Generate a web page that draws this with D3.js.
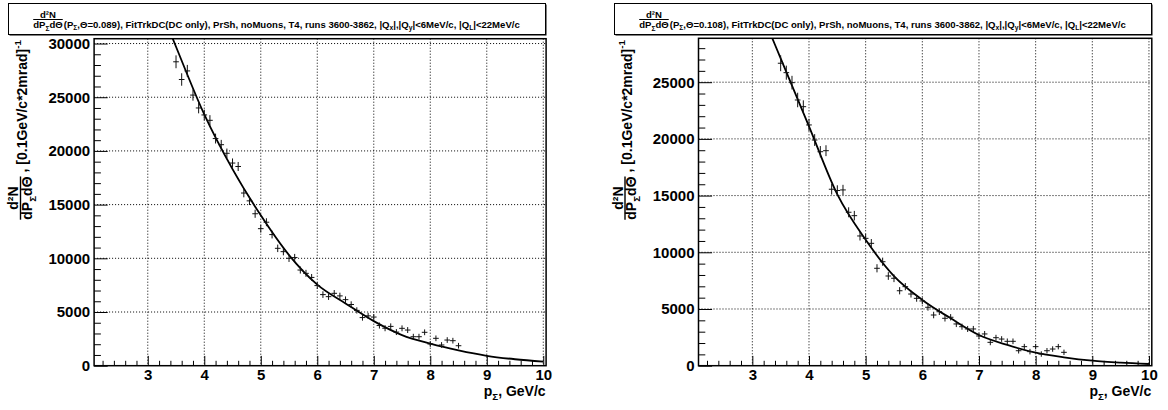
<!DOCTYPE html>
<html>
<head>
<meta charset="utf-8">
<script src="https://cdn.jsdelivr.net/npm/d3@7"></script>
<style>
  html, body { margin: 0; padding: 0; background: #fff; }
  svg { display: block; }
  text { font-family: "Liberation Sans", Arial, Helvetica, sans-serif; font-weight: bold; fill: #000; }
</style>
</head>
<body>
<svg id="canvas" width="1168" height="410"></svg>
<script>
// ---- data -------------------------------------------------------------
// bin centres (GeV/c), bin width 0.1
const binCenters = [3.5,3.6,3.7,3.8,3.9,4.0,4.1,4.2,4.3,4.4,4.5,4.6,4.7,4.8,4.9,5.0,5.1,5.2,5.3,5.4,
  5.5,5.6,5.7,5.8,5.9,6.0,6.1,6.2,6.3,6.4,6.5,6.6,6.7,6.8,6.9,7.0,7.1,7.2,7.3,7.4,
  7.5,7.6,7.7,7.8,7.9,8.0,8.1,8.2,8.3,8.4,8.5];
const binHalfWidth = 0.05;

// Theta = 0.089
const leftCounts = [28300,26650,27450,25200,24000,23350,22850,21150,20580,19780,
  18870,18550,16080,15350,14150,12760,13360,12210,10930,10620,
  10000,10070,8910,8600,8220,7460,6620,6430,6740,6500,
  6150,5700,5150,4480,4640,4530,3740,3490,3660,3130,
  3480,3320,2700,2700,3110,2020,2550,1930,2390,2330,1860];
const leftErrors = [600,580,560,520,500,490,480,460,450,440,
  430,420,400,390,380,370,370,360,350,345,
  340,340,330,325,320,315,310,305,305,300,
  300,295,290,285,285,285,280,280,280,275,
  275,275,270,270,270,265,265,265,265,265,265];

// Theta = 0.108
const rightCounts = [26670,25840,24960,23430,22840,21230,19900,18870,18960,15560,
  15450,15500,13530,13230,11440,11230,10790,8590,9170,7910,
  7710,6610,6970,6320,5940,5710,5150,4470,4760,4180,
  4270,3680,3440,3240,3240,2620,2800,2060,2470,2350,
  2150,2150,1320,1680,1240,1680,1030,1320,1470,1680,1180];
const rightErrors = [700,620,600,640,560,540,520,500,480,470,
  460,450,440,420,400,390,380,360,360,340,
  340,320,320,310,300,300,295,290,290,285,
  280,275,270,265,265,260,260,255,255,250,
  250,250,245,245,245,240,240,240,240,240,240];

// fitted curves, sampled
const fitX = [3.3,3.5,4.0,4.5,5.0,5.5,6.0,6.5,7.0,7.5,8.0,8.5,9.0,9.5,10.0];
const leftFit  = [32300,29700,23400,18300,14000,10300,7550,5800,4150,2850,2050,1420,920,600,380];
const rightFit = [29500,27100,21100,15100,11100,7900,5800,4180,2710,1830,1150,740,440,265,150];

// axes
const xDomain = [2.05, 10.05];
const xTicks = [3,4,5,6,7,8,9,10];
const leftYTicks = [0,5000,10000,15000,20000,25000,30000];
const rightYTicks = [0,5000,10000,15000,20000,25000];
const leftYMax = 30450;
const rightYMax = 28870;

const titleCommon = [[', FitTrkDC(DC only), PrSh, noMuons, T4, runs 3600-3862, |Q',''],['x','sub'],
  ['|,|Q',''],['y','sub'],['|<6MeV/c, |Q',''],['L','sub'],['|<22MeV/c','']];
const leftTitle  = [['(P',''],['\u03A3','sub'],[',\u0398=0.089)','']].concat(titleCommon);
const rightTitle = [['(P',''],['\u03A3','sub'],[',\u0398=0.108)','']].concat(titleCommon);

// ---- layout -----------------------------------------------------------
const panels = [
  { dx: 0,     frame: {x0: 94.1,  x1: 546.1,  y0: 38.7, y1: 365.7}, yMax: leftYMax,  yTicks: leftYTicks,
    counts: leftCounts, errors: leftErrors, fit: leftFit, title: leftTitle, box: {x: 8, y: 3, w: 537, h: 31} },
  { dx: 604.5, frame: {x0: 698.5, x1: 1151.8, y0: 38.3, y1: 365.7}, yMax: rightYMax, yTicks: rightYTicks,
    counts: rightCounts, errors: rightErrors, fit: rightFit, title: rightTitle, box: {x: 614, y: 3, w: 537, h: 31} }
];
const titleTextWidth = 487;

const svg = d3.select('#canvas');

// text with sub/superscript runs
function addRich(textSel, parts, size) {
  let shift = 0;
  parts.forEach(([s, kind]) => {
    const target = kind === 'sub' ? size * 0.3 : kind === 'sup' ? -size * 0.45 : 0;
    textSel.append('tspan')
      .attr('dy', (target - shift).toFixed(2))
      .attr('font-size', kind ? size * 0.7 : size)
      .text(s);
    shift = target;
  });
  return textSel;
}

// title line: fraction d2N/dP dTheta followed by the run description
function drawTitle(g, p, fs) {
  const b = p.box;
  const tNum = addRich(g.append('text').attr('text-anchor', 'middle'), [['d\u00B2N', '']], fs);
  const tDen = addRich(g.append('text').attr('text-anchor', 'middle'), [['dP', ''], ['\u03A3', 'sub'], ['d\u0398', '']], fs);
  const tMain = addRich(g.append('text'), p.title, fs);
  const tfw = Math.max(tNum.node().getComputedTextLength(), tDen.node().getComputedTextLength());
  const tmw = tMain.node().getComputedTextLength();
  const left = b.x + b.w / 2 - (tfw + 1 + tmw) / 2;
  tNum.attr('x', left + tfw / 2).attr('y', 17.5);
  tDen.attr('x', left + tfw / 2).attr('y', 28);
  g.append('line').attr('x1', left).attr('x2', left + tfw).attr('y1', 19.5).attr('y2', 19.5)
    .attr('stroke', '#000').attr('stroke-width', 1);
  tMain.attr('x', left + tfw + 1).attr('y', 27.5);
  return tfw + 1 + tmw;
}

panels.forEach((p, i) => {
  const f = p.frame;
  const x = d3.scaleLinear().domain(xDomain).range([f.x0, f.x1]);
  const y = d3.scaleLinear().domain([0, p.yMax]).range([f.y1, f.y0]);
  const g = svg.append('g');

  // clip for the plotting area
  const clipId = 'clip' + i;
  svg.append('clipPath').attr('id', clipId)
    .append('rect').attr('x', f.x0).attr('y', f.y0).attr('width', f.x1 - f.x0).attr('height', f.y1 - f.y0);

  // grid
  const grid = g.append('g').attr('stroke', '#000').attr('stroke-width', 1).attr('stroke-dasharray', '1,2');
  grid.selectAll('line.gx').data(xTicks).join('line')
    .attr('x1', d => x(d)).attr('x2', d => x(d)).attr('y1', f.y0).attr('y2', f.y1);
  grid.selectAll('line.gy').data(p.yTicks.filter(d => d > 0)).join('line')
    .attr('x1', f.x0).attr('x2', f.x1).attr('y1', d => y(d)).attr('y2', d => y(d));

  // fitted curve
  const line = d3.line().x(d => x(d[0])).y(d => y(d[1])).curve(d3.curveMonotoneX);
  g.append('path')
    .attr('clip-path', `url(#${clipId})`)
    .attr('d', line(fitX.map((v, k) => [v, p.fit[k]])))
    .attr('fill', 'none').attr('stroke', '#000').attr('stroke-width', 1.8);

  // data points with error bars
  const pts = g.append('g').attr('stroke', '#111').attr('stroke-width', 1).attr('clip-path', `url(#${clipId})`);
  binCenters.forEach((c, k) => {
    const v = p.counts[k], e = p.errors[k];
    pts.append('line').attr('x1', x(c)).attr('x2', x(c)).attr('y1', y(v - e)).attr('y2', y(v + e));
    pts.append('line').attr('x1', x(c - binHalfWidth)).attr('x2', x(c + binHalfWidth)).attr('y1', y(v)).attr('y2', y(v));
  });

  // frame
  g.append('rect').attr('x', f.x0).attr('y', f.y0).attr('width', f.x1 - f.x0).attr('height', f.y1 - f.y0)
    .attr('fill', 'none').attr('stroke', '#000').attr('stroke-width', 1.5);

  // y axis (ticks inward)
  const yMinor = d3.range(1000, p.yMax, 1000).filter(d => d % 5000 !== 0);
  const yAx = g.append('g').attr('transform', `translate(${f.x0},0)`)
    .call(d3.axisLeft(y).tickValues(p.yTicks).tickSize(-13.6).tickPadding(4).tickFormat(d3.format('d')));
  yAx.append('g').call(d3.axisLeft(y).tickValues(yMinor).tickSize(-6.8).tickFormat(''));
  // x axis
  const xMinor = d3.range(2.2, 10.05, 0.2).filter(d => Math.abs(d - Math.round(d)) > 1e-6);
  const xAx = g.append('g').attr('transform', `translate(0,${f.y1})`)
    .call(d3.axisBottom(x).tickValues(xTicks).tickSize(-9.8).tickPadding(4).tickFormat(d3.format('d')));
  xAx.append('g').call(d3.axisBottom(x).tickValues(xMinor).tickSize(-4.9).tickFormat(''));

  [yAx, xAx].forEach(a => {
    a.selectAll('.domain').remove();
    a.selectAll('line').attr('stroke', '#000').attr('stroke-width', 1);
    a.selectAll('text').attr('font-size', 15).attr('font-family', null).attr('fill', '#000');
  });
  g.selectAll('g').attr('font-family', null).attr('font-size', null);

  // x axis title
  addRich(g.append('text').attr('x', f.x1 - 0.5).attr('y', 396).attr('text-anchor', 'end'),
    [['p', ''], ['\u03A3', 'sub'], [', GeV/c', '']], 14);

  // y axis title (rotated, reads upward, ends at frame top)
  const yt = g.append('g').attr('transform', `translate(${p.dx},0) rotate(-90)`);
  const yMain = addRich(yt.append('text').attr('text-anchor', 'end').attr('x', -40).attr('y', 27),
    [[', [0.1GeV/c*2mrad]', ''], ['-1', 'sup']], 14);
  const yNum = addRich(yt.append('text').attr('text-anchor', 'middle'), [['d\u00B2N', '']], 14);
  const yDen = addRich(yt.append('text').attr('text-anchor', 'middle'), [['dP', ''], ['\u03A3', 'sub'], ['d\u0398', '']], 14);
  const mw = yMain.node().getComputedTextLength();
  const fw = Math.max(yNum.node().getComputedTextLength(), yDen.node().getComputedTextLength());
  const fc = -40 - mw - 4 - fw / 2;
  yNum.attr('x', fc).attr('y', 18);
  yDen.attr('x', fc).attr('y', 31.5);
  yt.append('line').attr('x1', fc - fw / 2).attr('x2', fc + fw / 2).attr('y1', 20.5).attr('y2', 20.5)
    .attr('stroke', '#000').attr('stroke-width', 1.4);

  // title box with shadow
  const b = p.box;
  g.append('rect').attr('x', b.x + 1.5).attr('y', b.y + 1.5).attr('width', b.w).attr('height', b.h).attr('fill', '#000');
  g.append('rect').attr('x', b.x + 0.5).attr('y', b.y + 0.5).attr('width', b.w).attr('height', b.h)
    .attr('fill', '#fff').attr('stroke', '#000').attr('stroke-width', 1);
  // size the title so its line fills the same span as in the box layout
  const probe = g.append('g');
  const w0 = drawTitle(probe, p, 10);
  probe.remove();
  drawTitle(g.append('g'), p, 10 * titleTextWidth / w0);
});
</script>
</body>
</html>
